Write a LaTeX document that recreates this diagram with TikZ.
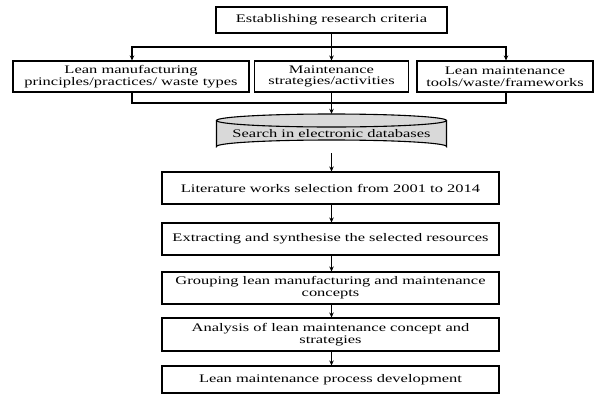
\documentclass[tikz,border=0pt]{standalone}
\usepackage{fontspec}
\setmainfont{Liberation Serif}[FakeStretch=1.42]
\usetikzlibrary{arrows.meta}
\definecolor{dbgray}{HTML}{D9D9D9}
\begin{document}
\begin{tikzpicture}[x=1pt,y=-1pt,
  box/.style={draw=black, line width=1.1pt, fill=white, inner sep=1pt, align=center,
    font=\fontsize{11.6}{11.8}\selectfont},
  arr/.style={line width=1.1pt, -{Stealth[length=5pt,width=4.5pt]}},
  conn/.style={line width=1.1pt, draw=black}]
\useasboundingbox (0,0) rectangle (594,394);
% top
\node[box, minimum width=231, minimum height=26] (top) at (331.5,20) {Establishing research criteria};
% row 1
\node[box, minimum width=236, minimum height=31] (L1) at (131,76.5) {Lean manufacturing\\principles/practices/ waste types};
\node[box, minimum width=154, minimum height=31] (M1) at (331.5,76.5) {Maintenance\\strategies/activities};
\node[box, minimum width=176, minimum height=31] (R1) at (505,76.5) {Lean maintenance\\tools/waste/frameworks};
% junction coordinates
\coordinate (split) at (331.5,47);
\coordinate (jL) at (132,103);
\coordinate (jR) at (506,103);
\coordinate (jM) at (331.5,103);
% merge from the side boxes
\draw[conn] (L1.south -| jL) -- (jL) -- (jM);
\draw[conn] (R1.south -| jR) -- (jR) -- (jM);
% database cylinder
\fill[dbgray] (217,120.5) -- (217,146.5) arc[start angle=180, end angle=360, x radius=115, y radius=6.5] -- (447,120.5) arc[start angle=0, end angle=180, x radius=115, y radius=6.5] -- cycle;
\draw[line width=1.1pt, fill=dbgray] (331.5,120.5) ellipse[x radius=115, y radius=6.5];
\draw[line width=1.1pt] (216.5,120.5) -- (216.5,146.5) arc[start angle=180, end angle=360, x radius=115, y radius=6.5] -- (446.5,120.5);
\node[inner sep=0pt, minimum width=230, minimum height=39, font=\fontsize{11.6}{11.8}\selectfont] (db) at (331.5,133.5) {\raisebox{-3pt}{Search in electronic databases}};
% chain
\node[box, minimum width=337, minimum height=32] (lit) at (330.5,188) {Literature works selection from 2001 to 2014};
\node[box, minimum width=337, minimum height=32] (ext) at (330.5,239) {Extracting and synthesise the selected resources};
\node[box, minimum width=337, minimum height=32] (grp) at (330.5,288) {Grouping lean manufacturing and maintenance\\concepts};
\node[box, minimum width=337, minimum height=33] (ana) at (330.5,334.5) {Analysis of lean maintenance concept and\\strategies};
\node[box, minimum width=337, minimum height=27] (dev) at (330.5,379.5) {Lean maintenance process development};
% connectors
\draw[conn] (top.south) -- (split);
\draw[arr] (split) -- (M1.north);
\draw[arr] (split) -| (L1.north -| jL);
\draw[arr] (split) -| (R1.north -| jR);
\draw[arr] (M1.south) -- (db.north);
\draw[arr] (db.south) -- (lit.north -| db.south);
\draw[arr] (lit.south -| db.south) -- (ext.north -| db.south);
\draw[arr] (ext.south -| db.south) -- (grp.north -| db.south);
\draw[arr] (grp.south -| db.south) -- (ana.north -| db.south);
\draw[arr] (ana.south -| db.south) -- (dev.north -| db.south);
\end{tikzpicture}
\end{document}
